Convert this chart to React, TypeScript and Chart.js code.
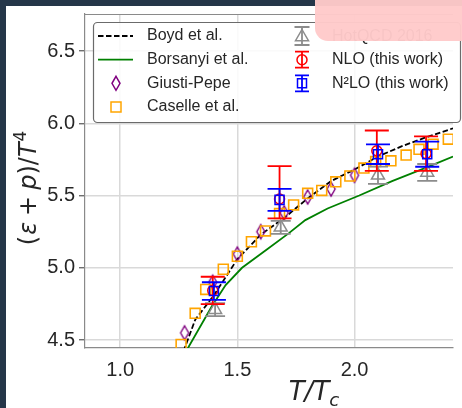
import React, { useEffect, useRef } from "react";
import { Chart, registerables } from "chart.js";
Chart.register(...registerables);

const W = 462;
const H = 408;

// axis ranges & ticks
const xRange = [0.85, 2.42];
const yRange = [4.445, 6.756];
const xTicks = [1.0, 1.5, 2.0];
const yTicks = [4.5, 5.0, 5.5, 6.0, 6.5];

// Boyd et al. (dashed)
const boydT = [1.26, 1.276, 1.32, 1.4, 1.5, 1.6, 1.7, 1.8, 1.9, 2.0, 2.1, 2.2, 2.3, 2.42, 2.5];
const boydE = [4.37, 4.447, 4.64, 4.81, 5.06, 5.23, 5.345, 5.48, 5.6, 5.68, 5.77, 5.84, 5.9, 5.965, 6.0];

// Borsanyi et al. (solid green)
const borsT = [1.27, 1.29, 1.39, 1.45, 1.52, 1.62, 1.72, 1.79, 1.885, 2.02, 2.16, 2.3, 2.42, 2.5];
const borsE = [4.38, 4.447, 4.73, 4.88, 5.0, 5.12, 5.24, 5.33, 5.41, 5.5, 5.6, 5.69, 5.77, 5.82];

// Giusti-Pepe (diamonds)
const gpT = [1.275, 1.395, 1.5, 1.6, 1.7, 1.8, 1.9, 2.0];
const gpE = [4.55, 4.9, 5.095, 5.25, 5.38, 5.49, 5.545, 5.64];

// Caselle et al. (squares)
const caT = [1.26, 1.32, 1.365, 1.44, 1.5, 1.56, 1.62, 1.68, 1.74, 1.8, 1.86, 1.92, 1.98, 2.04, 2.09, 2.155, 2.22, 2.275, 2.335, 2.4];
const caE = [4.47, 4.685, 4.85, 4.99, 5.08, 5.18, 5.255, 5.375, 5.435, 5.515, 5.535, 5.595, 5.635, 5.69, 5.735, 5.74, 5.78, 5.82, 5.855, 5.89];

// HotQCD 2016
const hotT = [1.405, 1.685, 2.1, 2.31];
const hotE = [4.71, 5.28, 5.64, 5.66];
const hotErr = [0.045, 0.045, 0.06, 0.058];

// NLO (this work)
const nloT = [1.395, 1.68, 2.095, 2.305];
const nloE = [4.843, 5.476, 5.81, 5.79];
const nloErrUp = [0.095, 0.228, 0.14, 0.119];
const nloErrDn = [0.095, 0.134, 0.14, 0.119];

// N2LO (this work)
const n2T = [1.4, 1.68, 2.1, 2.31];
const n2E = [4.839, 5.47, 5.786, 5.786];
const n2Err = [0.061, 0.076, 0.068, 0.087];

const SANS = '"Liberation Sans", Arial, Helvetica, sans-serif';
const MATH = '"DejaVu Sans", sans-serif';
const TXT = "#262626";

const pts = (xs: number[], ys: number[]) => xs.map((x, i) => ({ x, y: ys[i] }));

function drawMarker(ctx: CanvasRenderingContext2D, kind: string, x: number, y: number, color: string) {
  ctx.save();
  ctx.strokeStyle = color;
  ctx.lineWidth = 1.5;
  ctx.beginPath();
  if (kind === "circle") {
    ctx.arc(x, y, 5, 0, Math.PI * 2);
  } else if (kind === "square") {
    ctx.rect(x - 4.5, y - 4.5, 9, 9);
  } else if (kind === "bigsquare") {
    ctx.rect(x - 5, y - 5, 10, 10);
  } else if (kind === "triangle") {
    const r = 7.5;
    ctx.moveTo(x, y - r);
    ctx.lineTo(x + 0.866 * r, y + 0.5 * r);
    ctx.lineTo(x - 0.866 * r, y + 0.5 * r);
    ctx.closePath();
  } else if (kind === "diamond") {
    ctx.moveTo(x, y - 7);
    ctx.lineTo(x + 4, y);
    ctx.lineTo(x, y + 7);
    ctx.lineTo(x - 4, y);
    ctx.closePath();
  }
  ctx.stroke();
  ctx.restore();
}

function drawErr(ctx: CanvasRenderingContext2D, x: number, yTop: number, yBot: number, cap: number, color: string) {
  ctx.save();
  ctx.strokeStyle = color;
  ctx.lineWidth = 1.8;
  ctx.beginPath();
  ctx.moveTo(x, yTop);
  ctx.lineTo(x, yBot);
  ctx.moveTo(x - cap, yTop);
  ctx.lineTo(x + cap, yTop);
  ctx.moveTo(x - cap, yBot);
  ctx.lineTo(x + cap, yBot);
  ctx.stroke();
  ctx.restore();
}

type Piece = { t: string; it?: boolean; sc?: number; dy?: number; gap?: number };

function mathWidth(ctx: CanvasRenderingContext2D, pieces: Piece[], size: number) {
  let w = 0;
  for (const p of pieces) {
    const s = size * (p.sc || 1);
    ctx.font = `${p.it ? "italic " : ""}${s}px ${MATH}`;
    w += (p.gap || 0) + ctx.measureText(p.t).width;
  }
  return w;
}

function drawMath(ctx: CanvasRenderingContext2D, pieces: Piece[], size: number, x0: number, y0: number) {
  let x = x0;
  ctx.textBaseline = "alphabetic";
  ctx.textAlign = "left";
  for (const p of pieces) {
    const s = size * (p.sc || 1);
    ctx.font = `${p.it ? "italic " : ""}${s}px ${MATH}`;
    x += p.gap || 0;
    ctx.fillText(p.t, x, y0 + (p.dy || 0) * size);
    x += ctx.measureText(p.t).width;
  }
}

export default function App() {
  const ref = useRef<HTMLCanvasElement>(null);

  useEffect(() => {
    const canvas = ref.current!;

    const diamond = document.createElement("canvas");
    diamond.width = 12;
    diamond.height = 18;
    const dc = diamond.getContext("2d")!;
    dc.strokeStyle = "#800080";
    dc.lineWidth = 1.4;
    dc.beginPath();
    dc.moveTo(6, 2);
    dc.lineTo(10, 9);
    dc.lineTo(6, 16);
    dc.lineTo(2, 9);
    dc.closePath();
    dc.stroke();

    const bgPlugin = {
      id: "bg",
      beforeDraw(chart: any) {
        const ctx = chart.ctx;
        ctx.save();
        ctx.fillStyle = "#ffffff";
        ctx.fillRect(0, 0, W, H);
        ctx.fillStyle = "#253649";
        ctx.fillRect(0, 0, W, 6);
        ctx.fillRect(0, 0, 6, H);
        ctx.restore();
      },
    };

    const errPlugin = {
      id: "errbars",
      beforeDatasetDraw(chart: any, args: any) {
        const ds: any = chart.data.datasets[args.index];
        if (!ds.errUp) return;
        const ctx = chart.ctx;
        const xs = chart.scales.x;
        const ys = chart.scales.y;
        const a = chart.chartArea;
        ctx.save();
        ctx.beginPath();
        ctx.rect(a.left, a.top, a.right - a.left, a.bottom - a.top);
        ctx.clip();
        ds.data.forEach((d: any, i: number) => {
          const px = xs.getPixelForValue(d.x);
          const yt = ys.getPixelForValue(d.y + ds.errUp[i]);
          const yb = ys.getPixelForValue(d.y - ds.errDn[i]);
          drawErr(ctx, px, yt, yb, ds.capHalf, ds.errColor);
        });
        ctx.restore();
      },
    };

    const decorPlugin = {
      id: "decor",
      afterDraw(chart: any) {
        const ctx: CanvasRenderingContext2D = chart.ctx;
        const a = chart.chartArea;
        ctx.save();
        // top spine
        ctx.strokeStyle = "#8a8a8a";
        ctx.lineWidth = 1.2;
        ctx.beginPath();
        ctx.moveTo(a.left, a.top + 0.5);
        ctx.lineTo(a.right, a.top + 0.5);
        ctx.stroke();

        // legend box
        const lx = 93.5, ly = 22.5, lw = 367, lh = 100, r = 4;
        ctx.beginPath();
        ctx.moveTo(lx + r, ly);
        ctx.arcTo(lx + lw, ly, lx + lw, ly + lh, r);
        ctx.arcTo(lx + lw, ly + lh, lx, ly + lh, r);
        ctx.arcTo(lx, ly + lh, lx, ly, r);
        ctx.arcTo(lx, ly, lx + lw, ly, r);
        ctx.closePath();
        ctx.fillStyle = "rgba(255,255,255,0.85)";
        ctx.fill();
        ctx.strokeStyle = "#6b6b6b";
        ctx.lineWidth = 1.2;
        ctx.stroke();

        const rows = [36, 59.7, 83.3, 107];
        // column 1
        ctx.save();
        ctx.strokeStyle = "#000000";
        ctx.lineWidth = 1.8;
        ctx.setLineDash([5.5, 2.5]);
        ctx.beginPath();
        ctx.moveTo(98, rows[0]);
        ctx.lineTo(133, rows[0]);
        ctx.stroke();
        ctx.setLineDash([]);
        ctx.strokeStyle = "#008000";
        ctx.beginPath();
        ctx.moveTo(98, rows[1]);
        ctx.lineTo(133, rows[1]);
        ctx.stroke();
        ctx.restore();
        drawMarker(ctx, "diamond", 116, rows[2], "#800080");
        drawMarker(ctx, "bigsquare", 116, rows[3], "#ffa500");
        ctx.fillStyle = TXT;
        ctx.font = `16px ${SANS}`;
        ctx.textBaseline = "middle";
        ctx.textAlign = "left";
        ctx.fillText("Boyd et al.", 147, rows[0]);
        ctx.fillText("Borsanyi et al.", 147, rows[1]);
        ctx.fillText("Giusti-Pepe", 147, rows[2]);
        ctx.fillText("Caselle et al.", 147, rows[3]);
        // column 2
        const cx = 302;
        drawErr(ctx, cx, rows[0] - 9, rows[0] + 9, 7.5, "#8c8c8c");
        drawMarker(ctx, "triangle", cx, rows[0] + 1, "#8c8c8c");
        drawErr(ctx, cx, rows[1] - 8, rows[1] + 8, 7, "#ff0000");
        drawMarker(ctx, "circle", cx, rows[1], "#ff0000");
        drawErr(ctx, cx, rows[2] - 8, rows[2] + 8, 7, "#0000ff");
        drawMarker(ctx, "square", cx, rows[2], "#0000ff");
        ctx.fillStyle = TXT;
        ctx.font = `16px ${SANS}`;
        ctx.textBaseline = "middle";
        ctx.fillText("HotQCD 2016", 332, rows[0] + 1);
        ctx.fillText("NLO (this work)", 332, rows[1]);
        ctx.fillText("N²LO (this work)", 332, rows[2]);

        // pink overlay
        ctx.beginPath();
        ctx.moveTo(315, 0);
        ctx.lineTo(315, 28);
        ctx.arcTo(315, 41, 328, 41, 13);
        ctx.lineTo(W, 41);
        ctx.lineTo(W, 0);
        ctx.closePath();
        ctx.fillStyle = "rgba(255,202,202,0.965)";
        ctx.fill();

        // x axis title
        ctx.fillStyle = TXT;
        const xp: Piece[] = [
          { t: "T/T", it: true },
          { t: "c", it: true, sc: 0.7, dy: 0.22 },
        ];
        const xw = mathWidth(ctx, xp, 26);
        drawMath(ctx, xp, 26, 314 - xw / 2, 400);

        // y axis title
        const yp: Piece[] = [
          { t: "(" },
          { t: "ε", it: true, gap: 1 },
          { t: "+", gap: 6 },
          { t: "p", it: true, gap: 6 },
          { t: ")" },
          { t: "/" },
          { t: "T", it: true },
          { t: "4", sc: 0.7, dy: -0.42, gap: 1 },
        ];
        const yw = mathWidth(ctx, yp, 24);
        ctx.save();
        ctx.translate(36, 188);
        ctx.rotate(-Math.PI / 2);
        drawMath(ctx, yp, 24, -yw / 2, 0);
        ctx.restore();

        ctx.restore();
      },
    };

    const tickFont = { family: SANS, size: 20 };

    const chart = new Chart(canvas, {
      type: "scatter",
      data: {
        datasets: [
          {
            label: "N2LO (this work)",
            data: pts(n2T, n2E),
            pointStyle: "rect",
            pointRadius: 6.4,
            borderColor: "#0000ff",
            backgroundColor: "rgba(0,0,0,0)",
            borderWidth: 1.5,
            errUp: n2Err,
            errDn: n2Err,
            capHalf: 12,
            errColor: "#0000ff",
            order: 0,
          } as any,
          {
            label: "NLO (this work)",
            data: pts(nloT, nloE),
            pointStyle: "circle",
            pointRadius: 5,
            borderColor: "#ff0000",
            backgroundColor: "rgba(0,0,0,0)",
            borderWidth: 1.5,
            errUp: nloErrUp,
            errDn: nloErrDn,
            capHalf: 12,
            errColor: "#ff0000",
            order: 1,
          } as any,
          {
            label: "HotQCD 2016",
            data: pts(hotT, hotE),
            pointStyle: "triangle",
            pointRadius: 7.5,
            borderColor: "#8c8c8c",
            backgroundColor: "rgba(0,0,0,0)",
            borderWidth: 1.5,
            errUp: hotErr,
            errDn: hotErr,
            capHalf: 10,
            errColor: "#8c8c8c",
            order: 2,
          } as any,
          {
            label: "Caselle et al.",
            data: pts(caT, caE),
            pointStyle: "rect",
            pointRadius: 7,
            borderColor: "#ffa500",
            backgroundColor: "rgba(0,0,0,0)",
            borderWidth: 1.6,
            order: 3,
          },
          {
            label: "Giusti-Pepe",
            data: pts(gpT, gpE),
            pointStyle: diamond,
            pointRadius: 6,
            borderColor: "#800080",
            backgroundColor: "rgba(0,0,0,0)",
            order: 4,
          },
          {
            type: "line",
            label: "Borsanyi et al.",
            data: pts(borsT, borsE),
            borderColor: "#008000",
            borderWidth: 1.8,
            pointRadius: 0,
            showLine: true,
            tension: 0,
            fill: false,
            order: 5,
          } as any,
          {
            type: "line",
            label: "Boyd et al.",
            data: pts(boydT, boydE),
            borderColor: "#000000",
            borderWidth: 1.8,
            borderDash: [5.5, 2.5],
            pointRadius: 0,
            showLine: true,
            tension: 0,
            fill: false,
            order: 6,
          } as any,
        ],
      },
      options: {
        animation: false,
        responsive: false,
        devicePixelRatio: 1,
        layout: { padding: { top: 14, left: 0, right: 0, bottom: 0 } },
        plugins: { legend: { display: false }, tooltip: { enabled: false } },
        scales: {
          x: {
            type: "linear",
            min: xRange[0],
            max: xRange[1],
            afterBuildTicks: (s: any) => {
              s.ticks = xTicks.map((v) => ({ value: v }));
            },
            afterFit: (s: any) => {
              s.height = 60;
              s.paddingLeft = 0;
              s.paddingRight = 0;
            },
            grid: { color: "#d9d9d9", lineWidth: 1.5, drawTicks: false },
            border: { display: true, color: "#8a8a8a", width: 1.2 },
            ticks: {
              padding: 10,
              font: tickFont,
              color: TXT,
              callback: (v: any) => Number(v).toFixed(1),
            },
          },
          y: {
            type: "linear",
            min: yRange[0],
            max: yRange[1],
            afterBuildTicks: (s: any) => {
              s.ticks = yTicks.map((v) => ({ value: v }));
            },
            afterFit: (s: any) => {
              s.width = 85;
              s.paddingTop = 0;
              s.paddingBottom = 0;
            },
            grid: { color: "#d9d9d9", lineWidth: 1.5, tickLength: 6, tickColor: "#555555", tickWidth: 1.2 },
            border: { display: true, color: "#8a8a8a", width: 1.2 },
            ticks: {
              padding: 4,
              font: tickFont,
              color: TXT,
              callback: (v: any) => Number(v).toFixed(1),
            },
          },
        },
      },
      plugins: [bgPlugin, errPlugin, decorPlugin],
    } as any);

    return () => chart.destroy();
  }, []);

  return (
    <div style={{ position: "fixed", left: 0, top: 0, width: W, height: H, overflow: "hidden", background: "#fff" }}>
      <canvas ref={ref} width={W} height={H} style={{ display: "block", width: W, height: H }} />
    </div>
  );
}
